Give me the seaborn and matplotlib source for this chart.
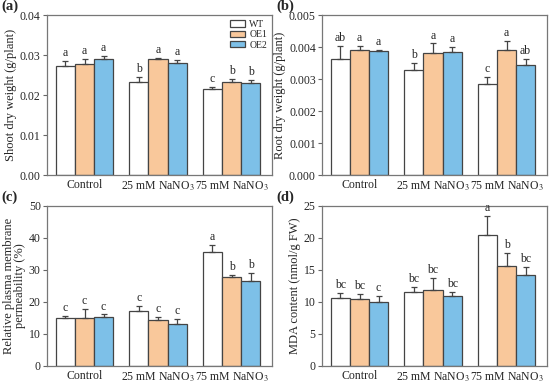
import matplotlib
matplotlib.use("Agg")
import matplotlib.pyplot as plt
import seaborn as sns
import pandas as pd

# ------------------------------
# data
# ------------------------------
treatments = ["Control", "25 mM NaNO$_3$", "75 mM NaNO$_3$"]
lines = ["WT", "OE1", "OE2"]

# values per line, order: Control, 25 mM, 75 mM
shoot_mean = {"WT": [0.0273, 0.0233, 0.0216], "OE1": [0.0278, 0.0289, 0.0232], "OE2": [0.0291, 0.0281, 0.0229]}
shoot_err = {"WT": [0.0012, 0.0013, 0.0004], "OE1": [0.0011, 0.0003, 0.0007], "OE2": [0.0007, 0.0007, 0.0008]}
shoot_sig = {"WT": ["a", "b", "c"], "OE1": ["a", "a", "b"], "OE2": ["a", "a", "b"]}

root_mean = {"WT": [0.00361, 0.00327, 0.00283], "OE1": [0.00390, 0.00381, 0.00390], "OE2": [0.00388, 0.00384, 0.00344]}
root_err = {"WT": [0.00043, 0.00022, 0.00023], "OE1": [0.00012, 0.00030, 0.00030], "OE2": [0.00003, 0.00017, 0.00020]}
root_sig = {"WT": ["ab", "b", "c"], "OE1": ["a", "a", "a"], "OE2": ["a", "a", "ab"]}

perm_mean = {"WT": [14.9, 17.3, 35.6], "OE1": [15.1, 14.4, 27.7], "OE2": [15.4, 13.0, 26.7]}
perm_err = {"WT": [0.8, 1.4, 2.3], "OE1": [2.6, 0.9, 0.7], "OE2": [0.7, 1.7, 2.5]}
perm_sig = {"WT": ["c", "c", "a"], "OE1": ["c", "c", "b"], "OE2": ["c", "c", "b"]}

mda_mean = {"WT": [10.55, 11.5, 20.5], "OE1": [10.45, 11.9, 15.6], "OE2": [10.0, 11.0, 14.2]}
mda_err = {"WT": [0.85, 0.9, 2.9], "OE1": [0.85, 1.8, 2.0], "OE2": [0.9, 0.6, 1.3]}
mda_sig = {"WT": ["bc", "bc", "a"], "OE1": ["bc", "bc", "b"], "OE2": ["c", "bc", "bc"]}

colors = ["#FFFFFF", "#F9C89B", "#7DC0E8"]

sns.set_style("ticks")
plt.rcParams["font.family"] = ["Liberation Serif", "DejaVu Serif"]
plt.rcParams["mathtext.fontset"] = "stix"

fig = plt.figure(figsize=(5.5, 3.85), dpi=100)
W, H = 550, 385
boxes = [(47, 15, 225, 160), (322, 15, 225, 160), (47, 206, 225, 160), (322, 206, 225, 160)]
panels = [
    ("(a)", shoot_mean, shoot_err, shoot_sig, "Shoot dry weight (g/plant)", 0.04, 0.01, "{:.2f}"),
    ("(b)", root_mean, root_err, root_sig, "Root dry weight (g/plant)", 0.005, 0.001, "{:.3f}"),
    ("(c)", perm_mean, perm_err, perm_sig, "Relative plasma membrane\npermeability (%)", 50, 10, "{:.0f}"),
    ("(d)", mda_mean, mda_err, mda_sig, "MDA content (nmol/g FW)", 25, 5, "{:.0f}"),
]

for (x0, y0, w, h), (lab, mean, err, sig, ylab, ymax, step, fmt) in zip(boxes, panels):
    ax = fig.add_axes([x0 / W, 1 - (y0 + h) / H, w / W, h / H])
    rows = []
    for ln in lines:
        for i, t in enumerate(treatments):
            rows.append({"treat": t, "line": ln, "val": mean[ln][i], "err": err[ln][i], "sig": sig[ln][i]})
    df = pd.DataFrame(rows)
    sns.barplot(data=df, x="treat", y="val", hue="line", order=treatments, hue_order=lines,
                palette=colors, saturation=1, errorbar=None, width=0.78, edgecolor="#444444",
                linewidth=0.9, legend=(lab == "(a)"), ax=ax)
    # error bars + letters
    for j, ln in enumerate(lines):
        cont = ax.containers[j]
        for i, bar in enumerate(cont):
            xc = bar.get_x() + bar.get_width() / 2
            m = mean[ln][i]
            e = err[ln][i]
            ax.errorbar(xc, m, yerr=[[0], [e]], fmt="none", ecolor="#444444", elinewidth=0.9,
                        capsize=2.5, capthick=0.9)
            ax.text(xc, m + e + ymax * 0.012, sig[ln][i], ha="center", va="bottom", fontsize=8.5)
    ax.set_xlim(-0.51, 2.55)
    ax.set_ylim(0, ymax)
    ticks = [k * step for k in range(int(round(ymax / step)) + 1)]
    ax.set_yticks(ticks)
    ax.set_yticklabels([fmt.format(t) for t in ticks], fontsize=8.5)
    ax.tick_params(axis="x", length=0, labelsize=8.5, pad=3)
    ax.tick_params(axis="y", length=3, width=0.8, color="#666666", pad=1.5)
    ax.set_xlabel("")
    ax.set_ylabel(ylab, fontsize=9, labelpad=2, linespacing=0.85)
    for s in ax.spines.values():
        s.set_color("#777777")
        s.set_linewidth(0.9)
    fig.text((x0 - 46) / W, 1 - (y0 - 15) / H, lab, fontsize=10.5, fontweight="bold", va="top", ha="left")
    if lab == "(a)":
        ax.legend(loc="upper right", frameon=False, fontsize=7, handlelength=1.6, handleheight=0.6,
                  labelspacing=0.15, handletextpad=0.4, borderpad=0.3, borderaxespad=0.2)

plt.savefig("out.png", dpi=100)
